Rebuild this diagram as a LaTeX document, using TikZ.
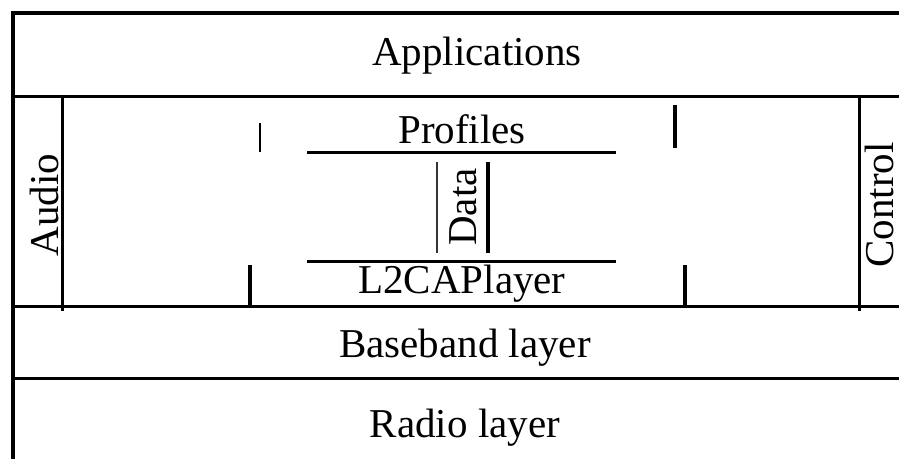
\documentclass[tikz,border=0pt]{standalone}
\usepackage{fontspec}
\setmainfont{Liberation Serif}
\usetikzlibrary{positioning}
\begin{document}
\begin{tikzpicture}[x=0.5pt, y=-0.5pt,
  lbl/.style={font=\fontsize{20.5}{23}\selectfont, inner sep=0pt},
  vlbl/.style={lbl, rotate=90},
  frame/.style={line width=2pt, line cap=butt},
  rule/.style={line width=1.5pt},
  tick/.style={line width=1.6pt},
  thintick/.style={line width=0.6pt, black!80}]
\useasboundingbox (0,0) rectangle (899,459);

% outer frame and layer rules
\draw[frame] (13,459) -- (13,13) -- (899,13);
\draw[rule] (13,97) -- (899,97);
\draw[rule] (13,307) -- (899,307);
\draw[rule] (13,379) -- (899,379);

% side columns
\draw[rule] (62,97) -- (62,311);
\draw[rule] (859,97) -- (859,311);

% layer labels
\node[lbl] (apps) at (477,56) {Applications};
\node[lbl] (base) at (465,348) {Baseband layer};
\node[lbl] (radio) at (465,428) {Radio layer};
\node[vlbl, fill=white, inner xsep=1pt] (audio) at (44,205) {Audio};
\node[vlbl] (ctrl) at (879,205) {Control};

% middle block
\node[lbl] (prof) at (462,129) {Profiles};
\node[lbl] (l2cap) at (462,284) {L2CAPlayer};
\node[vlbl] (data) at (463,207) {Data};
\draw[rule] (307,153) -- (616,153);
\draw[rule] (307,262) -- (616,262);
\draw[thintick] (437,162) -- (437,253);
\draw[tick] (488,162) -- (488,253);

% short ticks
\draw[line width=1.2pt] (260,123) -- (260,152);
\draw[tick, line width=2pt] (675,105) -- (675,148);
\draw[tick] (250,265) -- (250,307);
\draw[tick] (685,265) -- (685,307);
\end{tikzpicture}
\end{document}
